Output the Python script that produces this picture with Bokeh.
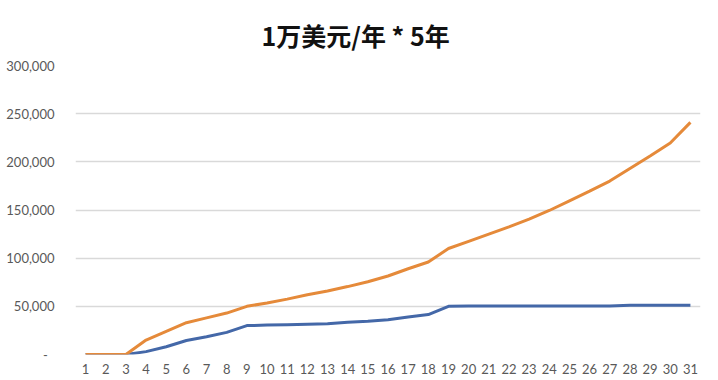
from bokeh.plotting import figure
from bokeh.models import FixedTicker, CustomJSTickFormatter, Range1d
from bokeh.embed import file_html
from bokeh.resources import INLINE

years = list(range(1, 32))
blue_vals = [0, 0, 0, 3000, 8000, 14500, 18500, 23000, 30000, 30500,
             31000, 31500, 32000, 33500, 34500, 36000, 39000, 41500, 50000, 50300,
             50300, 50300, 50300, 50300, 50300, 50300, 50300, 51000, 51000, 51000, 51000]
orange_vals = [0, 0, 0, 15000, 24000, 33000, 38000, 43000, 50000, 53500,
               57500, 62000, 66000, 70500, 75500, 81500, 89000, 96000, 110000, 117500,
               125000, 132500, 140500, 149500, 159500, 169500, 180000, 193000, 206000, 219500, 241000]
y_ticks = [0, 50000, 100000, 150000, 200000, 250000, 300000]
title_text = "1万美元/年 * 5年"

p = figure(width=718, height=380, output_backend="svg", toolbar_location=None,
           x_range=Range1d(0.5, 31.5), y_range=Range1d(0, 300000),
           min_border_left=75, min_border_right=18, min_border_top=65, min_border_bottom=26)

p.title.text = title_text
p.title.align = "left"
p.title.offset = 186
p.title.standoff = 25
p.title.text_font = "Noto Sans CJK SC"
p.title.text_font_style = "bold"
p.title.text_font_size = "25px"
p.title.text_color = "#111111"

p.line(years, blue_vals, line_color="#4468a8", line_width=3)
p.line(years, orange_vals, line_color="#e58a3a", line_width=3)

p.outline_line_color = None
p.background_fill_color = "white"
p.border_fill_color = "white"

p.xgrid.grid_line_color = None
p.ygrid.grid_line_color = "#d9d9d9"
p.ygrid.grid_line_width = 1.5
p.ygrid.ticker = FixedTicker(ticks=y_ticks)

p.yaxis.ticker = FixedTicker(ticks=y_ticks)
p.yaxis.formatter = CustomJSTickFormatter(code="""
if (tick == 0) { return "-\u00a0\u00a0"; }
return tick.toLocaleString('en-US');
""")
p.xaxis.ticker = FixedTicker(ticks=years)

for ax in (p.xaxis, p.yaxis):
    ax.axis_line_color = None
    ax.major_tick_line_color = None
    ax.minor_tick_line_color = None
    ax.major_label_text_font = "Lato"
    ax.major_label_text_font_size = "13px"
    ax.major_label_text_color = "#595959"

p.yaxis.major_label_standoff = 15
p.xaxis.major_label_standoff = 3

open("out.html", "w").write(file_html(p, INLINE))
